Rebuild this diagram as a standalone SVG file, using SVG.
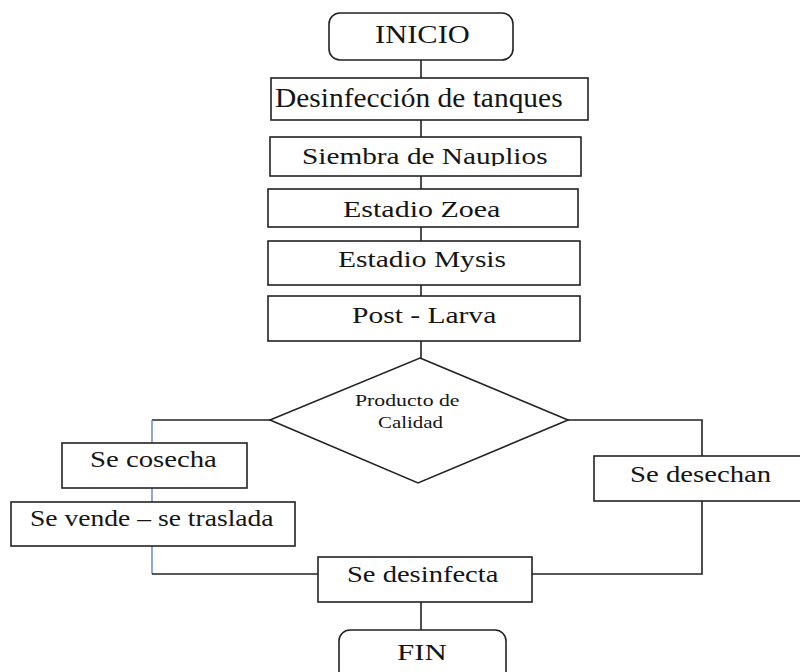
<svg xmlns="http://www.w3.org/2000/svg" width="800" height="672" viewBox="0 0 800 672">
<defs>
<style>
.box{fill:#fff;stroke:#222;stroke-width:1.6}
.ln{fill:none;stroke:#222;stroke-width:1.6}
.blue{fill:none;stroke:#5b86c0;stroke-width:1.4}
.t{font-family:'Liberation Serif','Times New Roman',serif;fill:#151515;font-size:24px}
</style>
<clipPath id="clipS"><rect x="270" y="137" width="311" height="29"/></clipPath>
</defs>
<rect width="800" height="672" fill="#fff"/>
<g id="connectors">
<line class="ln" x1="421" y1="60" x2="421" y2="78"/>
<line class="ln" x1="421" y1="120" x2="421" y2="137"/>
<line class="ln" x1="421" y1="176" x2="421" y2="189"/>
<line class="ln" x1="421" y1="227" x2="421" y2="241"/>
<line class="ln" x1="421" y1="285" x2="421" y2="296"/>
<line class="ln" x1="421" y1="341" x2="421" y2="358"/>
<polyline class="ln" points="270,420 152,420"/>
<polyline class="blue" points="152,420 152,574"/>
<polyline class="ln" points="152,574 318,574"/>
<polyline class="ln" points="568,420 702,420 702,456"/>
<polyline class="ln" points="702,501 702,574 532,574"/>
<line class="ln" x1="421" y1="602" x2="421" y2="630"/>
</g>
<g id="inicio"><rect class="box" x="329" y="13" width="184" height="47" rx="11"/><text class="t" transform="translate(375,43) scale(1.22,1)" style="font-size:25px">INICIO</text></g>
<g id="desinfeccion"><rect class="box" x="271" y="78" width="317" height="42"/><text class="t" transform="translate(275,107) scale(1.09,1)" style="font-size:27px">Desinfección de tanques</text></g>
<g id="siembra"><g clip-path="url(#clipS)"><text class="t" transform="translate(302,164) scale(1.22,1)">Siembra de Nauplios</text></g><rect class="box" x="270" y="137" width="311" height="39" fill="none" style="fill:none"/></g>
<g id="zoea"><rect class="box" x="268" y="189" width="310" height="38"/><text class="t" transform="translate(343,217) scale(1.25,1)">Estadio Zoea</text></g>
<g id="mysis"><rect class="box" x="268" y="241" width="312" height="44"/><text class="t" transform="translate(338,267) scale(1.23,1)">Estadio Mysis</text></g>
<g id="postlarva"><rect class="box" x="268" y="296" width="312" height="45"/><text class="t" transform="translate(352,323) scale(1.23,1)">Post - Larva</text></g>
<g id="decision"><polygon class="box" points="420,358 568,420 418,483 270,420"/><text class="t" transform="translate(355,406) scale(1.28,1)" style="font-size:17px">Producto de</text><text class="t" transform="translate(378,428) scale(1.23,1)" style="font-size:17px">Calidad</text></g>
<g id="cosecha"><rect class="box" x="62" y="443" width="185" height="45"/><text class="t" transform="translate(90,467) scale(1.25,1)" style="font-size:23px">Se cosecha</text></g>
<g id="vende"><rect class="box" x="11" y="502" width="284" height="44"/><text class="t" transform="translate(30,526) scale(1.2,1)" style="font-size:23px">Se vende – se traslada</text></g>
<g id="desechan"><rect class="box" x="594" y="456" width="210" height="45"/><text class="t" transform="translate(630,482) scale(1.25,1)" style="font-size:23px">Se desechan</text></g>
<g id="desinfecta"><rect class="box" x="318" y="557" width="214" height="45"/><text class="t" transform="translate(347,582) scale(1.19,1)">Se desinfecta</text></g>
<g id="fin"><rect class="box" x="339" y="630" width="167" height="60" rx="11"/><text class="t" transform="translate(397,660) scale(1.29,1)">FIN</text></g>
</svg>
